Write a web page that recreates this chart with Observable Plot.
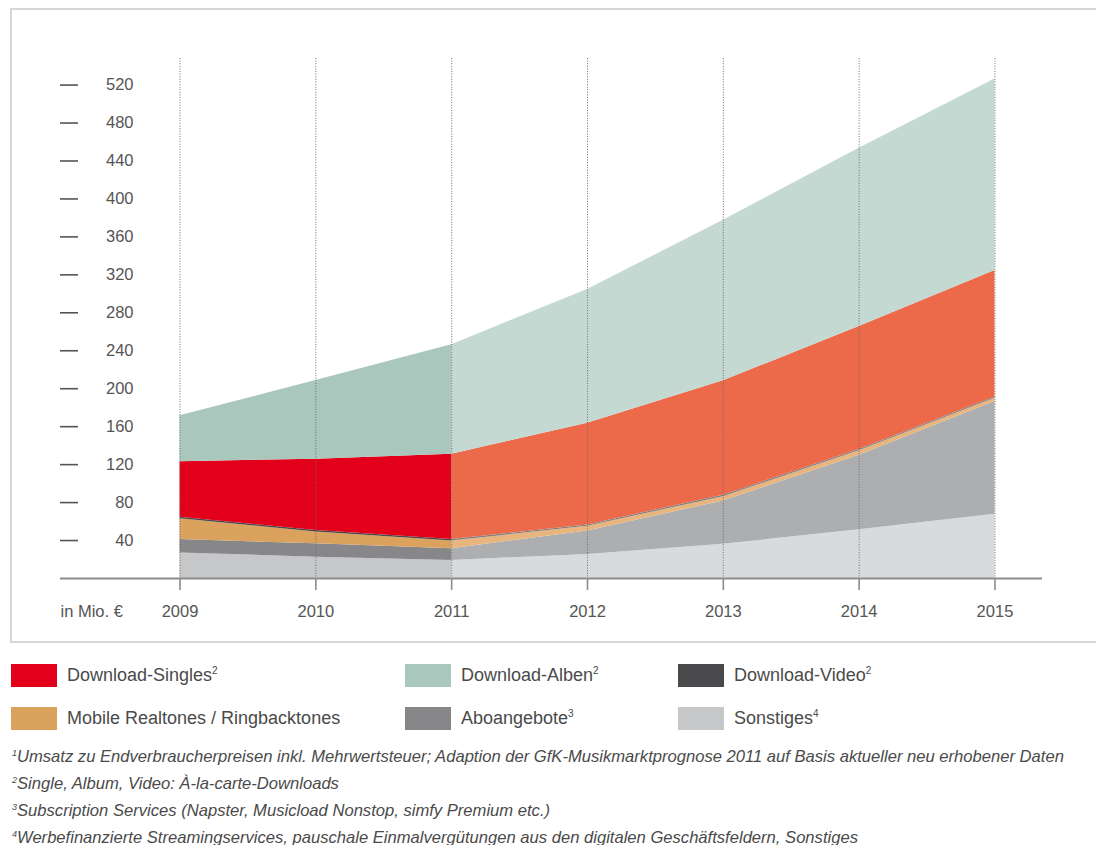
<!DOCTYPE html>
<html lang="de">
<head>
<meta charset="utf-8">
<script src="https://cdn.jsdelivr.net/npm/d3@7"></script>
<script src="https://cdn.jsdelivr.net/npm/@observablehq/plot@0.6"></script>
<style>
  html, body { margin: 0; padding: 0; background: #fff; }
  body {
    position: relative; width: 1096px; height: 845px; overflow: hidden;
    font-family: "Liberation Sans", Arial, sans-serif; color: #4a4a4a;
  }
  #box {
    position: absolute; left: 10px; top: 8px; width: 1110px; height: 635px;
    border: 2px solid #d6d6d6; box-sizing: border-box;
  }
  #chart { position: absolute; left: 0; top: 0; }
  .item { position: absolute; display: flex; align-items: center; font-size: 18px; color: #4a4a4a; }
  .sw { width: 46px; height: 23px; margin-right: 10px; }
  sup { font-size: 10px; vertical-align: 7px; line-height: 0; }
  .note { position: absolute; left: 12px; font-size: 16.6px; line-height: 19px; font-style: italic; color: #4a4a4a; white-space: nowrap; }
  .note sup { font-size: 9px; vertical-align: 6px; }
</style>
</head>
<body>
<div id="box"></div>
<div id="chart"></div>
<div id="legend"></div>
<div id="notes"></div>
<script>
// Digitaler Musikmarkt Deutschland, Umsatz in Mio. €, 2009–2011 Ist, 2012–2015 Prognose
const years = [2009, 2010, 2011, 2012, 2013, 2014, 2015];
const sonstiges = [27, 22.5, 19, 25.4, 36, 51.5, 67.7];
const aboangebote = [14, 14, 12.4, 24.6, 45.7, 78.5, 118.7];
const mobile = [22, 12.5, 8.1, 5, 4.5, 4.5, 3.5];
const video = [1.5, 1.5, 1.5, 1.5, 1.5, 1.5, 1.5];
const singles = [58.5, 75.3, 90, 107, 120.6, 129.7, 133.2];
const alben = [48.5, 82.8, 115.4, 141, 169.2, 187.6, 201.9];
const yTicks = [40, 80, 120, 160, 200, 240, 280, 320, 360, 400, 440, 480, 520];
const lastActualYear = 2011;

// stacking order, bottom to top
const names = ["Sonstiges", "Aboangebote", "Mobile Realtones/Ringbacktones", "Download-Video", "Download-Singles", "Download-Alben"];
const seriesValues = [sonstiges, aboangebote, mobile, video, singles, alben];
const actualColor = {
  "Sonstiges": "#c6c7c9",
  "Aboangebote": "#87878a",
  "Mobile Realtones/Ringbacktones": "#dba25d",
  "Download-Video": "#4a4a4c",
  "Download-Singles": "#e2001a",
  "Download-Alben": "#a9c7bc"
};
const forecastColor = {
  "Sonstiges": "#d9dadc",
  "Aboangebote": "#adaeb0",
  "Mobile Realtones/Ringbacktones": "#e8b57e",
  "Download-Video": "#808083",
  "Download-Singles": "#ec6a4a",
  "Download-Alben": "#c3d9d1"
};

const rows = names.flatMap((name, k) => seriesValues[k].map((value, i) => ({year: years[i], name, value})));
const actual = rows.filter(d => d.year <= lastActualYear);
const forecast = rows.filter(d => d.year >= lastActualYear);

const stacked = (data, colors) => Plot.areaY(data, Plot.stackY({
  order: names, x: "year", y: "value", z: "name", fill: d => colors[d.name]
}));

const chart = Plot.plot({
  width: 1096, height: 640,
  marginLeft: 60, marginRight: 54, marginTop: 58, marginBottom: 62,
  style: {fontFamily: '"Liberation Sans", Arial, sans-serif', fontSize: "16.5px", color: "#555", background: "transparent"},
  x: {type: "linear", domain: [2008.12, 2015.35]},
  y: {domain: [0, 548]},
  color: {type: "identity"},
  marks: [
    stacked(actual, actualColor),
    stacked(forecast, forecastColor),
    Plot.ruleX(years, {stroke: "#6e6e6e", strokeWidth: 1, strokeDasharray: "1,1.6"}),
    Plot.ruleY([0], {stroke: "#8c8c8c", strokeWidth: 2}),
    Plot.axisY(yTicks, {tickSize: -18, tickPadding: -55, stroke: "#555", strokeWidth: 1.6, tickFormat: d => String(d), label: null}),
    Plot.axisX(years, {tickSize: 12, tickPadding: 15, stroke: "#8c8c8c", strokeWidth: 1.6, tickFormat: d => String(d), label: null}),
    Plot.text(["in Mio. €"], {frameAnchor: "bottom-left", dy: 33, textAnchor: "start", lineAnchor: "middle", fill: "#555"})
  ]
});
document.getElementById("chart").append(chart);

// legend
const legendItems = [
  {label: "Download-Singles", sup: "2", color: actualColor["Download-Singles"], col: 0, row: 0},
  {label: "Download-Alben", sup: "2", color: actualColor["Download-Alben"], col: 1, row: 0},
  {label: "Download-Video", sup: "2", color: actualColor["Download-Video"], col: 2, row: 0},
  {label: "Mobile Realtones / Ringbacktones", sup: "", color: actualColor["Mobile Realtones/Ringbacktones"], col: 0, row: 1},
  {label: "Aboangebote", sup: "3", color: actualColor["Aboangebote"], col: 1, row: 1},
  {label: "Sonstiges", sup: "4", color: actualColor["Sonstiges"], col: 2, row: 1}
];
const colX = [11, 405, 678];
const rowY = [664, 707];
const legend = document.getElementById("legend");
for (const it of legendItems) {
  const el = document.createElement("div");
  el.className = "item";
  el.style.left = colX[it.col] + "px";
  el.style.top = rowY[it.row] + "px";
  el.innerHTML = `<span class="sw" style="background:${it.color}"></span><span>${it.label}${it.sup ? `<sup>${it.sup}</sup>` : ""}</span>`;
  legend.append(el);
}

// footnotes
const notes = [
  ["1", "Umsatz zu Endverbraucherpreisen inkl. Mehrwertsteuer; Adaption der GfK-Musikmarktprognose 2011 auf Basis aktueller neu erhobener Daten"],
  ["2", "Single, Album, Video: À-la-carte-Downloads"],
  ["3", "Subscription Services (Napster, Musicload Nonstop, simfy Premium etc.)"],
  ["4", "Werbefinanzierte Streamingservices, pauschale Einmalvergütungen aus den digitalen Geschäftsfeldern, Sonstiges"]
];
const notesEl = document.getElementById("notes");
notes.forEach(([n, t], i) => {
  const el = document.createElement("div");
  el.className = "note";
  el.style.top = (747 + i * 27) + "px";
  el.innerHTML = `<sup>${n}</sup>${t}`;
  notesEl.append(el);
});
</script>
</body>
</html>
